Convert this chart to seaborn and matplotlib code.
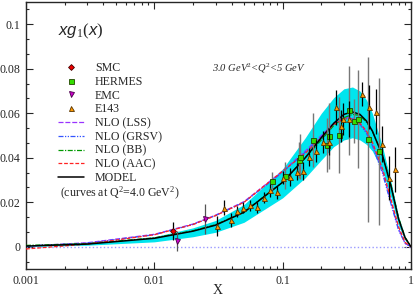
import matplotlib
matplotlib.use("Agg")
import matplotlib.pyplot as plt
import matplotlib.ticker as mticker
from matplotlib.lines import Line2D
import seaborn as sns
import numpy as np
import pandas as pd

# data points
smc_x = [0.0139]
smc_y = [0.0072]
smc_e = [0.0040]

emc_x = [0.0150, 0.025]
emc_y = [0.0028, 0.0126]
emc_e = [0.0045, 0.0067]

hermes_x = [0.083, 0.105, 0.134, 0.137, 0.173, 0.220, 0.230, 0.277, 0.329, 0.360, 0.389, 0.460, 0.567]
hermes_y = [0.0296, 0.0320, 0.0390, 0.0405, 0.0480, 0.0457, 0.0498, 0.0502, 0.0613, 0.0566, 0.0573, 0.0483, 0.0429]
hermes_e = [0.004, 0.006, 0.008, 0.010, 0.012, 0.012, 0.015, 0.017, 0.020, 0.010, 0.022, 0.037, 0.033]

e143_x = [0.0310, 0.0349, 0.0394, 0.0441, 0.0494, 0.0557, 0.0628, 0.0713, 0.0798, 0.0904,
          0.101, 0.114, 0.129, 0.145, 0.161, 0.183, 0.207, 0.231, 0.259, 0.284, 0.295, 0.330,
          0.418, 0.471, 0.531, 0.595, 0.671, 0.755]
e143_y = [0.0093, 0.0176, 0.0120, 0.0160, 0.0176, 0.0187, 0.0178, 0.0221, 0.0254, 0.0245,
          0.0311, 0.0315, 0.0338, 0.0341, 0.0405, 0.0432, 0.0472, 0.0472, 0.0626, 0.0543, 0.0574, 0.0574,
          0.0686, 0.0629, 0.0607, 0.0463, 0.0310, 0.0348]
e143_e = [0.0045, 0.0034, 0.0030, 0.0025, 0.0025, 0.0025, 0.0025, 0.0025, 0.0030, 0.0030,
          0.0030, 0.0040, 0.0040, 0.0040, 0.0040, 0.0050, 0.0050, 0.0060, 0.0080, 0.0070, 0.0070, 0.0080,
          0.0055, 0.0100, 0.0100, 0.0080, 0.0100, 0.0100]

# curves (read at these x values)
cx = [0.001, 0.003, 0.01, 0.02, 0.03, 0.05, 0.1, 0.15, 0.2, 0.25, 0.3, 0.35, 0.4, 0.45, 0.5, 0.6, 0.7, 0.8, 0.9, 1.0]
model = [0.0003, 0.0012, 0.0038, 0.0070, 0.0097, 0.0155, 0.029, 0.040, 0.049, 0.0555, 0.0595, 0.0606, 0.0595, 0.0565, 0.052, 0.041, 0.027, 0.0125, 0.004, 0]
band_hi = [0.0005, 0.0015, 0.0045, 0.0085, 0.0118, 0.019, 0.035, 0.049, 0.060, 0.067, 0.071, 0.0718, 0.070, 0.066, 0.060, 0.045, 0.029, 0.0135, 0.0045, 0]
band_lo = [0.0001, 0.0007, 0.0022, 0.0045, 0.0065, 0.0110, 0.022, 0.031, 0.039, 0.045, 0.048, 0.049, 0.048, 0.046, 0.043, 0.034, 0.022, 0.0095, 0.003, 0]
nlo_lss = [0.0003, 0.0018, 0.0056, 0.0102, 0.0142, 0.0203, 0.034, 0.043, 0.050, 0.0555, 0.058, 0.058, 0.0555, 0.0515, 0.046, 0.034, 0.020, 0.008, 0.0015, 0]
nlo_grsv = [0.0003, 0.0016, 0.0054, 0.0100, 0.0140, 0.0200, 0.0335, 0.0425, 0.0495, 0.055, 0.0575, 0.0575, 0.055, 0.051, 0.0455, 0.033, 0.019, 0.0075, 0.0015, 0]
nlo_bb = [0.0006, 0.0014, 0.0040, 0.0072, 0.0099, 0.0157, 0.029, 0.040, 0.048, 0.0545, 0.058, 0.0595, 0.059, 0.056, 0.052, 0.041, 0.0275, 0.013, 0.0042, 0]
nlo_aac = [-0.0010, 0.0012, 0.0054, 0.0100, 0.0140, 0.0200, 0.034, 0.042, 0.049, 0.055, 0.0575, 0.0575, 0.0555, 0.052, 0.047, 0.035, 0.021, 0.009, 0.002, 0]

sns.set_theme(style="ticks")
plt.rcParams['font.family'] = ['Liberation Serif', 'DejaVu Serif']
plt.rcParams['mathtext.fontset'] = 'custom'
plt.rcParams['mathtext.rm'] = 'Liberation Serif'
plt.rcParams['mathtext.it'] = 'Liberation Sans:italic'
plt.rcParams['mathtext.default'] = 'rm'

fig = plt.figure(figsize=(4.15, 2.97), dpi=100)
ax = fig.add_axes([26/415, 1-269/297, 385/415, 267/297])

ax.fill_between(cx, band_lo, band_hi, color='#00e5ee', lw=0, zorder=1)
ax.axhline(0, color='#9999ff', ls=':', lw=1.0, zorder=1)

curves = pd.DataFrame({'x': cx, 'LSS': nlo_lss, 'GRSV': nlo_grsv, 'BB': nlo_bb, 'AAC': nlo_aac, 'MODEL': model})
styles = {
    'LSS': dict(color='#9933ff', ls=(0, (4, 1.5)), lw=0.9),
    'GRSV': dict(color='#3355ff', ls=(0, (4, 1.2, 1, 1.2, 1, 1.2)), lw=0.9),
    'BB': dict(color='#009900', ls=(0, (4, 1.2, 1, 1.2)), lw=0.9),
    'AAC': dict(color='#ff2222', ls=(0, (3, 1.5)), lw=0.9),
    'MODEL': dict(color='black', ls='-', lw=1.1),
}
for k in ['LSS', 'GRSV', 'BB', 'AAC', 'MODEL']:
    sns.lineplot(data=curves, x='x', y=k, ax=ax, estimator=None, sort=False,
                 zorder=3, **styles[k])

ms = 3.6
ax.errorbar(hermes_x, hermes_y, yerr=hermes_e, fmt='s', ms=ms, mfc='#33dd00', mec='#224400',
            mew=0.6, ecolor='#777777', elinewidth=1.0, capsize=0, zorder=4)
ax.errorbar(e143_x, e143_y, yerr=e143_e, fmt='^', ms=ms, mfc='#ff9900', mec='#553300',
            mew=0.6, ecolor='black', elinewidth=0.9, capsize=0, zorder=5)
ax.errorbar(smc_x, smc_y, yerr=smc_e, fmt='D', ms=ms-0.6, mfc='#ee0000', mec='#440000',
            mew=0.6, ecolor='black', elinewidth=0.9, capsize=0, zorder=5)
ax.errorbar(emc_x, emc_y, yerr=emc_e, fmt='v', ms=ms, mfc='#cc00cc', mec='#440044',
            mew=0.6, ecolor='#555555', elinewidth=0.9, capsize=0, zorder=5)

ax.set_xscale('log')
ax.set_xlim(0.001, 1)
ax.set_ylim(-0.01, 0.11)
ax.set_yticks([0, 0.02, 0.04, 0.06, 0.08, 0.1])
ax.yaxis.set_major_formatter(mticker.FuncFormatter(lambda v, p: '%g' % round(v, 4)))
ax.yaxis.set_minor_locator(mticker.AutoMinorLocator(3))
ax.xaxis.set_major_formatter(mticker.FuncFormatter(lambda v, p: '%g' % v))
ax.tick_params(which='both', direction='in', top=True, right=True, labelsize=8.6, width=0.8, pad=4)
ax.tick_params(which='major', length=5)
ax.tick_params(which='minor', length=2.5)
for s in ax.spines.values():
    s.set_linewidth(1.0)
ax.set_xlabel('')
ax.set_ylabel('')
fig.text(218/415, 1-290/297, 'X', fontsize=10, ha='center', va='center')

ax.text(58/415, 1-31/297, '$\\mathit{xg_1(x)}$', transform=fig.transFigure, fontsize=12,
        va='center', ha='left')
ax.text(212/415, 1-68/297, '3.0 GeV$^2$<Q$^2$<5 GeV', transform=fig.transFigure, fontsize=7.6,
        style='italic', va='center', ha='left')

handles = [
    Line2D([], [], ls='none', marker='D', ms=ms-0.6, mfc='#ee0000', mec='#440000', mew=0.6),
    Line2D([], [], ls='none', marker='s', ms=ms, mfc='#33dd00', mec='#224400', mew=0.6),
    Line2D([], [], ls='none', marker='v', ms=ms, mfc='#cc00cc', mec='#440044', mew=0.6),
    Line2D([], [], ls='none', marker='^', ms=ms, mfc='#ff9900', mec='#553300', mew=0.6),
    Line2D([], [], **styles['LSS']),
    Line2D([], [], **styles['GRSV']),
    Line2D([], [], **styles['BB']),
    Line2D([], [], **styles['AAC']),
    Line2D([], [], **styles['MODEL']),
]
labels = ['SMC', 'HERMES', 'EMC', 'E143', 'NLO (LSS)', 'NLO (GRSV)', 'NLO (BB)', 'NLO (AAC)', 'MODEL']
fig.legend(handles, labels, loc='upper left', bbox_to_anchor=(58/415, 1-62/297), frameon=False,
           fontsize=8.6, handlelength=2.2, handletextpad=0.9, labelspacing=0.15, borderpad=0,
           borderaxespad=0)
ax.text(60/415, 1-193/297, '(curves at Q$^2$=4.0 GeV$^2$)', transform=fig.transFigure,
        fontsize=8.6, va='center', ha='left')

fig.savefig('out.png', dpi=100)
